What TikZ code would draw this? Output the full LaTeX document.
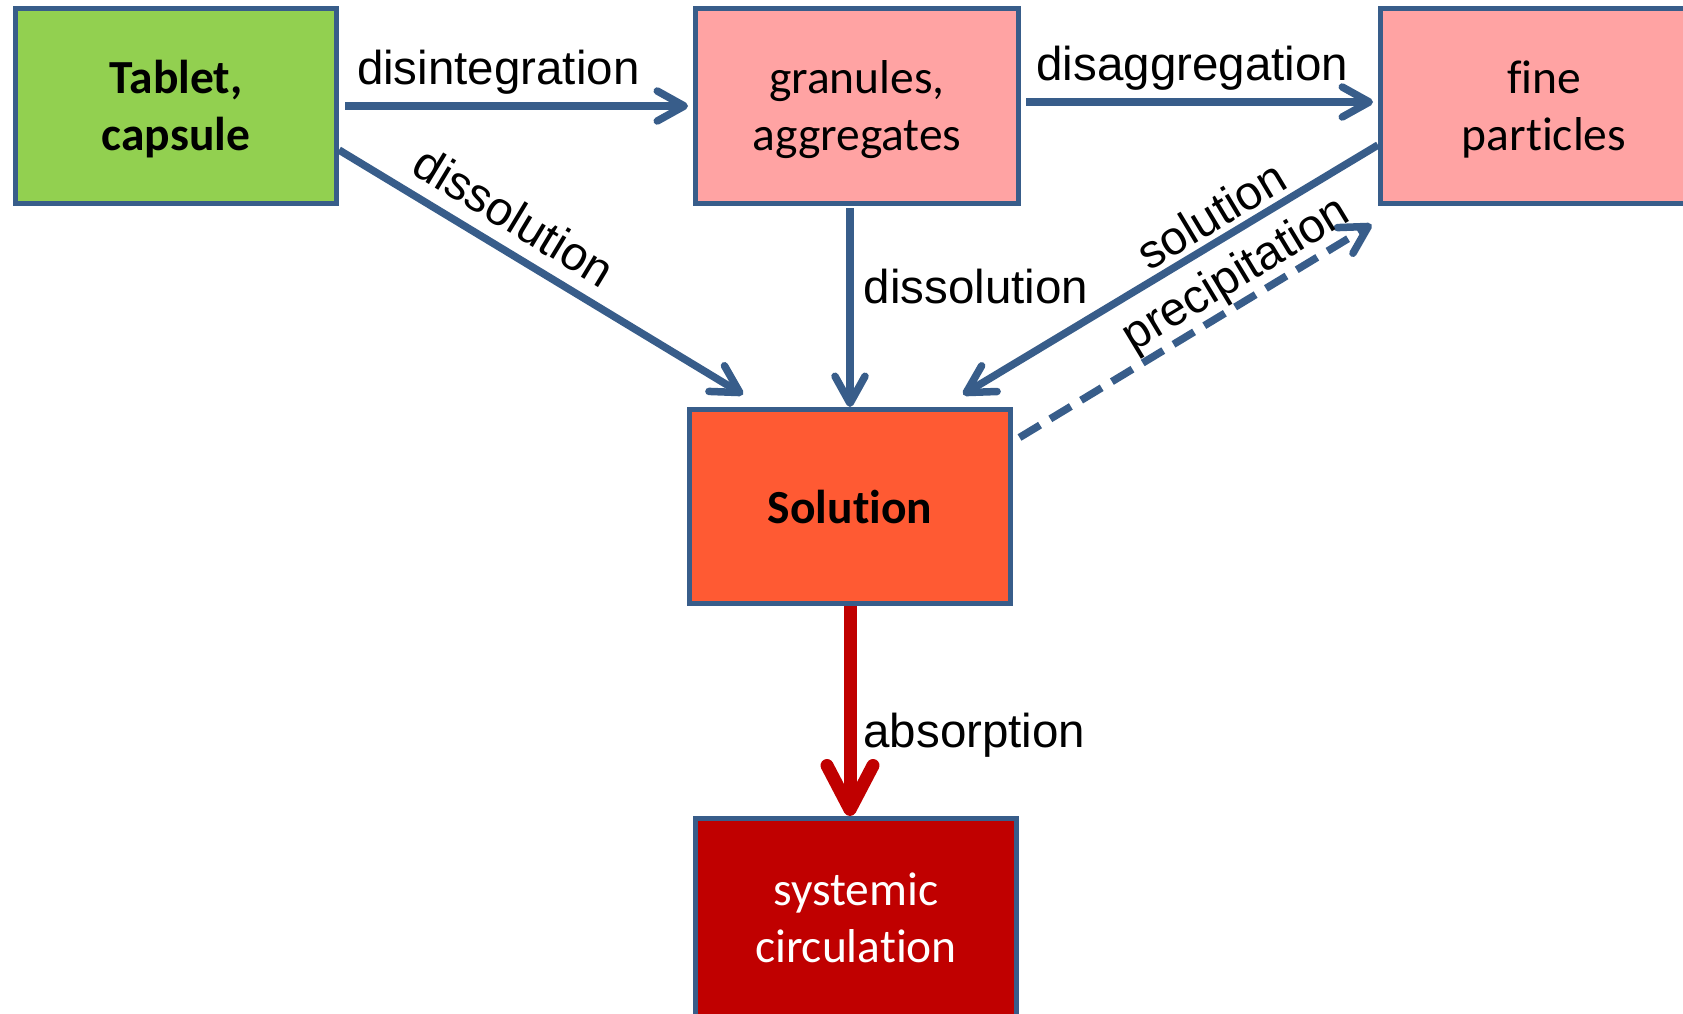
\documentclass[tikz,border=0pt]{standalone}
\usepackage{fontspec}
\setmainfont{Carlito}[Ligatures={NoCommon,NoContextual}]
\newfontfamily\labelfont{Liberation Sans}
\usetikzlibrary{arrows.meta}

\definecolor{edgeblue}{HTML}{385D8A}
\definecolor{tabletgreen}{HTML}{92D050}
\definecolor{particlepink}{HTML}{FFA3A3}
\definecolor{solorange}{HTML}{FF5A33}
\definecolor{bloodred}{HTML}{C00000}

% taller first line pushes two-line box texts slightly down
\newcommand{\boxstrut}{\rule{0pt}{40pt}}
% keeps letter pairs such as f-i and t-i apart
\newcommand{\nolig}{\kern0pt}

\tikzset{
  stagebox/.style={draw=edgeblue, line width=5pt, inner sep=0pt,
    minimum width=321pt, minimum height=195pt, align=center,
    font=\fontsize{47.5}{57}\selectfont},
  flow/.style={draw=edgeblue, line width=7.5pt,
    -{Straight Barb[length=27pt,width=30pt,round]}},
  uptake/.style={draw=bloodred, line width=13pt,
    -{Straight Barb[length=44pt,width=46pt,round]}},
  steplabel/.style={inner sep=0pt, text=black,
    font=\labelfont\fontsize{47.5}{57}\selectfont}
}

\begin{document}
\begin{tikzpicture}[x=1pt,y=-1pt]
  \useasboundingbox (0,0) rectangle (1683,1013);
  \clip (0,0) rectangle (1683,1013);

  % stages of the dosage form
  \node[stagebox, fill=tabletgreen, font=\bfseries\fontsize{47.5}{57}\selectfont]
    (tab) at (176,106) {\boxstrut Tablet,\\capsule};
  \node[stagebox, fill=particlepink, minimum width=323pt] (gran) at (857,106)
    {\boxstrut granules,\\aggregates};
  \node[stagebox, fill=particlepink, minimum width=327pt] (fine) at (1544,106)
    {\boxstrut f\nolig ine\\part\nolig icles};
  \node[stagebox, fill=solorange, minimum height=194pt,
    font=\bfseries\fontsize{47.5}{57}\selectfont] (sol) at (850,506.5) {Solut\nolig ion};
  \node[stagebox, fill=bloodred, text=white, minimum height=199pt] (sys) at (856,918)
    {systemic\\circulat\nolig ion};

  % transitions
  \draw[flow, shorten <=6pt, shorten >=5pt] (tab.east) -- (tab.east -| gran.west)
    node[steplabel, above=8pt, pos=0.45] {disintegration};
  \draw[flow, shorten <=5pt, shorten >=5pt] ([yshift=4pt]gran.east) -- ([yshift=4pt]fine.west)
    node[steplabel, above=8pt, pos=0.48] {disaggregation};
  \draw[flow] ([yshift=-44pt]tab.east) -- ([xshift=-107pt,yshift=12.5pt]sol.north)
    node[steplabel, sloped, above=13pt, pos=0.39] {dissolution};
  \draw[flow, shorten <=2pt] (sol.north |- gran.south) -- (sol.north)
    node[steplabel, right=10pt, pos=0.4] {dissolution};
  \draw[flow] ([yshift=-39pt]fine.west) -- ([xshift=113pt,yshift=12.5pt]sol.north)
    node[steplabel, sloped, above=5pt, pos=0.37] {solution};
  \draw[flow, dash pattern=on 24pt off 12pt]
    ([xshift=6.5pt,yshift=-30.5pt]sol.north east) -- ([xshift=-6.5pt,yshift=-18.5pt]fine.south west)
    node[steplabel, sloped, above=0pt, pos=0.655] {precipitation};
  \draw[uptake] (sol.south) -- (sol.south |- sys.north)
    node[steplabel, right=7pt, pos=0.615] {absorption};
\end{tikzpicture}
\end{document}
